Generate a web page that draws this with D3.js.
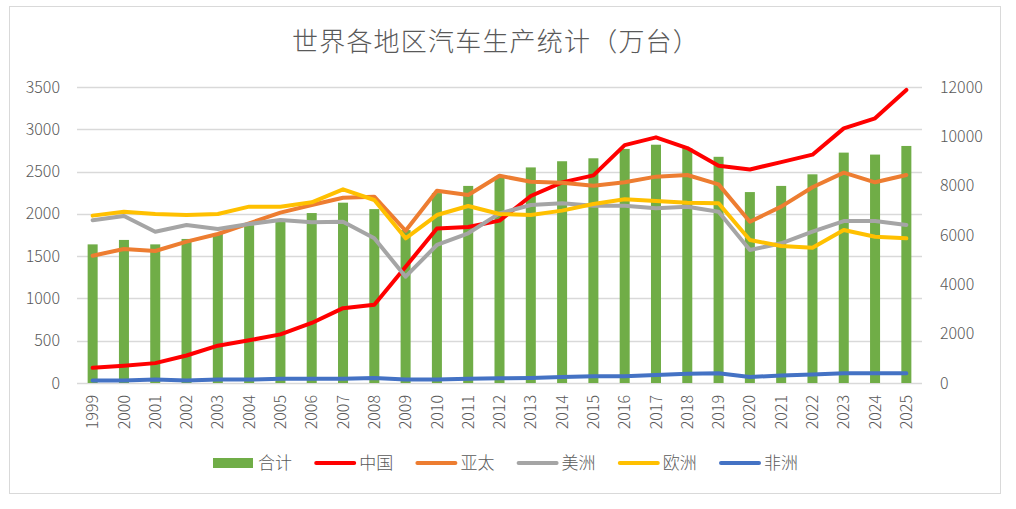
<!DOCTYPE html>
<html>
<head>
<meta charset="utf-8">
<title>世界各地区汽车生产统计</title>
<script src="https://d3js.org/d3.v7.min.js"></script>
<style>
	body { margin: 0; background: #fff; }
	text { font-family: "Noto Sans CJK SC", "Noto Sans", sans-serif; fill: #595959; }
</style>
</head>
<body>
<div id="container"></div>
<script>

// years on the x axis
var years = ["1999","2000","2001","2002","2003","2004","2005","2006","2007","2008","2009","2010","2011","2012",
	"2013","2014","2015","2016","2017","2018","2019","2020","2021","2022","2023","2024","2025"];

// total (right axis)
var total = [5620,5800,5620,5840,6070,6400,6610,6890,7310,7050,6200,7700,7990,8360,8740,8990,9110,9490,9660,9520,9170,7740,7990,8460,9340,9260,9610];

// regions (left axis)
var china = [180,205,235,325,441,505,575,710,885,925,1375,1826,1845,1920,2211,2372,2455,2812,2905,2778,2570,2525,2612,2700,3011,3130,3465];
var asiaPacific = [1505,1584,1561,1671,1762,1888,2014,2105,2191,2203,1800,2274,2223,2451,2380,2368,2333,2373,2440,2459,2349,1907,2085,2314,2487,2373,2459];
var americas = [1924,1975,1789,1868,1821,1880,1927,1900,1907,1711,1257,1632,1770,2006,2105,2125,2097,2097,2065,2085,2026,1573,1652,1789,1915,1915,1868];
var europe = [1979,2026,1998,1986,1998,2085,2085,2136,2290,2164,1711,1986,2093,1998,1986,2038,2117,2172,2152,2132,2125,1691,1620,1600,1809,1730,1711];
var africa = [30,30,40,30,40,40,50,50,50,60,40,40,50,55,60,70,80,80,95,110,115,70,90,100,115,115,115];

var leftTicks = [0,500,1000,1500,2000,2500,3000,3500];
var rightTicks = [0,2000,4000,6000,8000,10000,12000];

var lineSeries = [
	{name: "中国", values: china, color: "#ff0000"},
	{name: "亚太", values: asiaPacific, color: "#ed7d31"},
	{name: "美洲", values: americas, color: "#a5a5a5"},
	{name: "欧洲", values: europe, color: "#ffc000"},
	{name: "非洲", values: africa, color: "#4472c4"}
];

var width = 1016, height = 509;
var plot = {left: 77, right: 922, top: 87, bottom: 383};

var svg = d3.select("#container")
	.append("svg")
	.attr("width", width)
	.attr("height", height);

// outer frame
svg.append("rect")
	.attr("x", 9.5).attr("y", 6.5)
	.attr("width", 991).attr("height", 487)
	.attr("fill", "#fff")
	.attr("stroke", "#d9d9d9");

var x = d3.scaleBand()
	.domain(years)
	.range([plot.left, plot.right])
	.paddingInner(0.68)
	.paddingOuter(0.34);

var yLeft = d3.scaleLinear().domain([0, 3500]).range([plot.bottom, plot.top]);
var yRight = d3.scaleLinear().domain([0, 12000]).range([plot.bottom, plot.top]);

// gridlines
svg.append("g")
	.selectAll("line")
	.data(leftTicks)
	.enter().append("line")
	.attr("x1", plot.left).attr("x2", plot.right)
	.attr("y1", function(d) { return Math.round(yLeft(d)) + 0.5; })
	.attr("y2", function(d) { return Math.round(yLeft(d)) + 0.5; })
	.attr("stroke", "#d9d9d9")
	.attr("stroke-width", 1.3);

// left axis
var leftAxis = svg.append("g")
	.attr("transform", "translate(" + (plot.left - 15) + ",0)")
	.call(d3.axisLeft(yLeft).tickValues(leftTicks).tickFormat(d3.format("d")).tickSize(0).tickPadding(2));
leftAxis.select(".domain").remove();
leftAxis.selectAll("text").style("font-size", "16px").style("font-weight", 300).attr("fill", "#595959");

// right axis
var rightAxis = svg.append("g")
	.attr("transform", "translate(" + (plot.right + 16) + ",0)")
	.call(d3.axisRight(yRight).tickValues(rightTicks).tickFormat(d3.format("d")).tickSize(0).tickPadding(2));
rightAxis.select(".domain").remove();
rightAxis.selectAll("text").style("font-size", "16px").style("font-weight", 300).attr("fill", "#595959");

// x axis labels, rotated
var xAxis = svg.append("g")
	.attr("transform", "translate(0," + plot.bottom + ")")
	.call(d3.axisBottom(x).tickSize(0).tickPadding(0));
xAxis.select(".domain").remove();
xAxis.selectAll("text")
	.style("font-size", "16px")
	.style("font-weight", 300)
	.attr("fill", "#595959")
	.attr("text-anchor", "end")
	.attr("dy", "0.35em")
	.attr("transform", "translate(0,12) rotate(-90)");

// bars: total
svg.append("g")
	.selectAll("rect")
	.data(total)
	.enter().append("rect")
	.attr("x", function(d, i) { return x(years[i]); })
	.attr("width", x.bandwidth())
	.attr("y", function(d) { return yRight(d); })
	.attr("height", function(d) { return plot.bottom - yRight(d); })
	.attr("fill", "#70ad47");

// region lines
var line = d3.line()
	.x(function(d, i) { return x(years[i]) + x.bandwidth() / 2; })
	.y(function(d) { return yLeft(d); });

svg.append("g")
	.selectAll("path")
	.data(lineSeries)
	.enter().append("path")
	.attr("d", function(s) { return line(s.values); })
	.attr("fill", "none")
	.attr("stroke", function(s) { return s.color; })
	.attr("stroke-width", 4)
	.attr("stroke-linejoin", "round")
	.attr("stroke-linecap", "round");

// title
svg.append("text")
	.attr("x", 496)
	.attr("y", 51)
	.attr("text-anchor", "middle")
	.style("font-size", "26px")
	.style("font-weight", 300)
	.style("letter-spacing", "1.2px")
	.text("世界各地区汽车生产统计（万台）");

// legend
var legendItems = [{name: "合计", color: "#70ad47", bar: true}].concat(lineSeries);
var legend = svg.append("g").attr("transform", "translate(213,463)");
var item = legend.selectAll("g")
	.data(legendItems)
	.enter().append("g")
	.attr("transform", function(d, i) { return "translate(" + (i * 101.2) + ",0)"; });

item.filter(function(d) { return d.bar; })
	.append("rect")
	.attr("x", 0).attr("y", -5)
	.attr("width", 40).attr("height", 10)
	.attr("fill", function(d) { return d.color; });

item.filter(function(d) { return !d.bar; })
	.append("line")
	.attr("x1", 2).attr("x2", 40)
	.attr("y1", 0).attr("y2", 0)
	.attr("stroke", function(d) { return d.color; })
	.attr("stroke-width", 4)
	.attr("stroke-linecap", "round");

item.append("text")
	.attr("x", 45)
	.attr("y", 0)
	.attr("dy", "0.36em")
	.style("font-size", "17px")
	.style("font-weight", 300)
	.text(function(d) { return d.name; });

</script>
</body>
</html>
